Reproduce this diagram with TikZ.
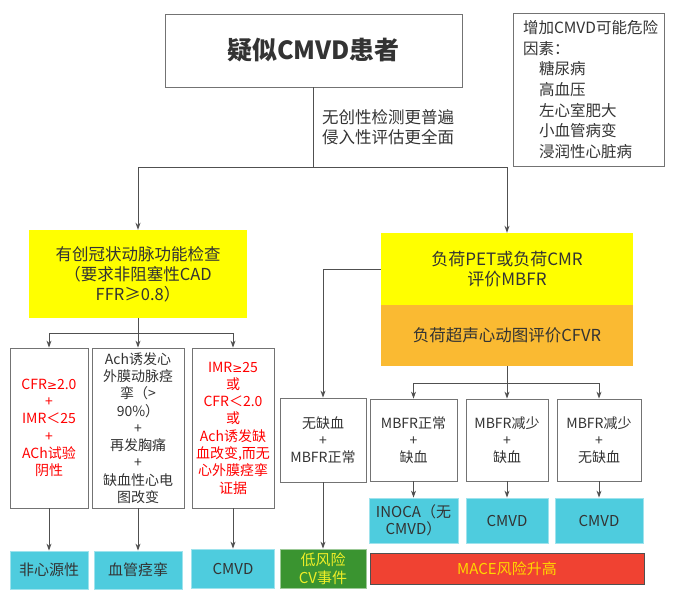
\documentclass[tikz,border=0pt]{standalone}
\usepackage{fontspec}
\setmainfont{Noto Sans CJK SC}
\newfontfamily\symf{DejaVu Sans}
\usetikzlibrary{arrows.meta}
\definecolor{bordc}{RGB}{115,115,115}
\definecolor{linec}{RGB}{80,80,80}
\definecolor{darkt}{RGB}{51,51,51}
\definecolor{redt}{RGB}{255,0,0}
\definecolor{yel}{RGB}{255,255,0}
\definecolor{orng}{RGB}{250,186,50}
\definecolor{tealc}{RGB}{78,204,222}
\definecolor{grn}{RGB}{58,148,48}
\definecolor{grnt}{RGB}{238,238,40}
\definecolor{redbar}{RGB}{240,66,50}
\definecolor{gold}{RGB}{255,215,0}
\newcommand{\gesym}{{\symf\fontsize{12}{14}\selectfont ≥}}
\begin{document}
\begin{tikzpicture}[x=1pt,y=-1pt,
  box/.style={draw=bordc, line width=0.8pt, fill=white, inner sep=0pt, align=center, text=darkt},
  fill box/.style={inner sep=0pt, align=center, text=darkt},
  fs/.style={font=\fontsize{14}{17.3}\selectfont},
  ln/.style={draw=linec, line width=0.9pt},
  arr/.style={ln, -{Stealth[length=7pt,width=5pt]}},
  tealbox/.style={fill box, fill=tealc, draw=tealc!55!white, line width=0.8pt, font=\fontsize{15}{16.5}\selectfont}
]
\useasboundingbox (0,0) rectangle (674,604);

% top
\node[box, minimum width=297pt, minimum height=73pt, font=\fontsize{25}{28}\selectfont\bfseries] (t) at (313.5,50.5) {疑似CMVD患者};
\node[anchor=west, align=left, inner sep=0pt, text=darkt, font=\fontsize{16.5}{20}\selectfont] (lbl) at (322,127) {无创性检测更普遍\\侵入性评估更全面};
\node[box, minimum width=151pt, minimum height=153pt, text width=131pt, inner xsep=10pt, align=left, font=\fontsize{15.5}{20.6}\selectfont] (rk) at (588.5,89.5)
 {增加CMVD可能危险\\因素：\\\hspace*{16pt}糖尿病\\\hspace*{16pt}高血压\\\hspace*{16pt}左心室肥大\\\hspace*{16pt}小血管病变\\\hspace*{16pt}浸润性心脏病};

% yellow boxes
\node[fill box, fill=yel, minimum width=218pt, minimum height=88pt, font=\fontsize{16.5}{20}\selectfont] (ly) at (138,274) {有创冠状动脉功能检查\\（要求非阻塞性CAD\\FFR≥0.8）};
\node[fill box, fill=yel, minimum width=252pt, minimum height=72pt, font=\fontsize{17}{20}\selectfont] (ry) at (507,269) {负荷PET或负荷CMR\\评价MBFR};
\node[fill box, fill=orng, minimum width=252pt, minimum height=61pt, font=\fontsize{16.5}{20}\selectfont] (ro) at (507,335.5) {负荷超声心动图评价CFVR};

% left branch boxes
\node[box, fs, text=redt, minimum width=78pt, minimum height=160pt] (b1) at (49,428) {CFR\gesym2.0\\+\\IMR＜25\\+\\ACh试验\\阴性};
\node[box, fs, minimum width=92pt, minimum height=160pt] (b2) at (138,428) {Ach诱发心\\外膜动脉痉\\挛（>\\90\%）\\+\\再发胸痛\\+\\缺血性心电\\图改变};
\node[box, fs, text=redt, minimum width=82pt, minimum height=160pt] (b3) at (233,428) {IMR\gesym25\\或\\CFR＜2.0\\或\\Ach诱发缺\\血改变,而无\\心外膜痉挛\\证据};

\node[tealbox, minimum width=78pt, minimum height=38pt] (c1) at (49,570) {非心源性};
\node[tealbox, minimum width=88pt, minimum height=38pt] (c2) at (138,570) {血管痉挛};
\node[tealbox, minimum width=83pt, minimum height=39pt] (c3) at (233,568.5) {CMVD};

% middle
\node[box, fs, minimum width=86pt, minimum height=84pt] (m1) at (323,440) {无缺血\\+\\MBFR正常};
\node[fill box, fill=grn, draw=grn!50!white, line width=0.8pt, text=grnt, minimum width=86pt, minimum height=39pt, font=\fontsize{15}{18}\selectfont] (g1) at (323,568.5) {低风险\\CV事件};

% right branch
\node[box, fs, minimum width=87pt, minimum height=82pt] (r1) at (413.5,440) {MBFR正常\\+\\缺血};
\node[box, fs, minimum width=82pt, minimum height=82pt] (r2) at (507,440) {MBFR减少\\+\\缺血};
\node[box, fs, minimum width=84pt, minimum height=82pt] (r3) at (599,440) {MBFR减少\\+\\无缺血};

\node[tealbox, minimum width=89pt, minimum height=45pt] (s1) at (413.5,520.5) {INOCA（无\\CMVD）};
\node[tealbox, minimum width=82pt, minimum height=45pt] (s2) at (507,520.5) {CMVD};
\node[tealbox, minimum width=88pt, minimum height=45pt] (s3) at (599,520.5) {CMVD};

\node[fill box, fill=redbar, draw=linec, line width=0.8pt, text=gold, minimum width=274pt, minimum height=31pt, font=\fontsize{15}{18}\selectfont] (mace) at (507,568.5) {MACE风险升高};

% connectors
\coordinate (j1) at (313.5,167);
\draw[ln] (t.south) -- (j1);
\draw[arr] (j1) -| (ly.north);
\draw[arr] (j1) -| (ry.north);

\coordinate (j2) at (138,333);
\draw[ln] (ly.south) -- (j2);
\draw[arr] (j2) -| (b1.north);
\draw[arr] (j2) -- (b2.north);
\draw[arr] (j2) -| (b3.north);
\draw[arr] (b1.south) -- (c1.north);
\draw[arr] (b2.south) -- (c2.north);
\draw[arr] (b3.south) -- (c3.north);

\draw[arr] (ry.west) -| (m1.north);
\draw[arr] (m1.south) -- (g1.north);

\coordinate (j3) at (507,383);
\draw[ln] (ro.south) -- (j3);
\draw[arr] (j3) -| (r1.north);
\draw[arr] (j3) -- (r2.north);
\draw[arr] (j3) -| (r3.north);
\draw[arr] (r1.south) -- (s1.north);
\draw[arr] (r2.south) -- (s2.north);
\draw[arr] (r3.south) -- (s3.north);
\end{tikzpicture}
\end{document}
